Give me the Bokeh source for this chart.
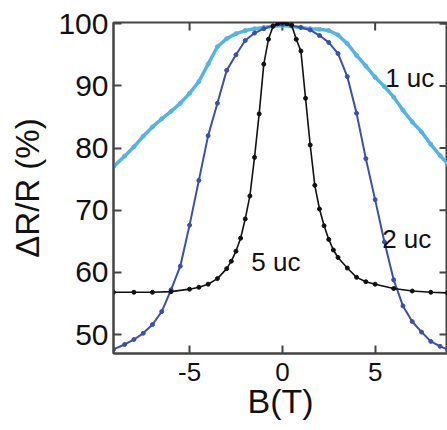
import math
from bokeh.plotting import figure
from bokeh.models import FixedTicker, Range1d, Label
from bokeh.embed import file_html
from bokeh.resources import INLINE

# ---- data ----
b_wide = [-9.1, -8.5, -8.0, -7.5, -7.0, -6.5, -6.0, -5.5, -5.0, -4.5, -4.0, -3.5,
          -3.0, -2.5, -2.0, -1.5, -1.0, -0.5, 0.0, 0.5, 1.0, 1.5, 2.0, 2.5, 3.0,
          3.5, 4.0, 4.5, 5.0, 5.5, 6.0, 6.5, 7.0, 7.5, 8.0, 8.5, 8.9]
r_1uc = [77.0, 78.7, 80.2, 81.9, 83.4, 84.7, 85.9, 87.2, 88.8, 90.7, 93.5, 96.3,
         97.6, 98.4, 98.9, 99.2, 99.4, 99.6, 99.7, 99.6, 99.4, 99.2, 99.1, 98.9, 98.2,
         96.8, 94.9, 93.2, 91.4, 89.9, 88.2, 86.1, 84.2, 82.6, 80.6, 78.8, 77.5]
r_2uc = [47.6, 48.4, 49.2, 50.2, 51.6, 53.7, 57.2, 61.0, 67.6, 74.8, 82.0, 87.2,
         92.5, 95.0, 97.3, 98.5, 99.2, 99.7, 99.9, 99.7, 99.4, 99.0, 98.1, 97.0, 95.2,
         91.5, 85.6, 78.3, 71.7, 64.9, 58.8, 54.6, 52.1, 50.4, 48.9, 48.1, 47.6]
b_5uc = [-9.1, -8.0, -7.0, -6.0, -5.0, -4.5, -4.0, -3.5, -3.0, -2.75, -2.5, -2.25,
         -2.0, -1.75, -1.5, -1.25, -1.0, -0.75, -0.5, -0.25, 0.0, 0.25, 0.5, 0.75,
         1.0, 1.25, 1.5, 1.75, 2.0, 2.25, 2.5, 2.75, 3.0, 3.5, 4.0, 4.5, 5.0, 6.0,
         7.0, 8.0, 8.9]
r_5uc = [56.8, 56.8, 56.8, 56.9, 57.3, 57.6, 58.1, 59.0, 60.6, 61.8, 63.4, 65.5,
         68.6, 72.3, 78.5, 85.5, 93.5, 97.5, 99.6, 100.0, 100.2, 100.0, 99.8, 97.5,
         95.6, 88.0, 80.5, 74.0, 70.2, 67.5, 65.3, 63.6, 62.4, 60.7, 59.2, 58.5, 58.1,
         57.4, 57.0, 56.8, 56.7]
x_ticks = [-5, 0, 5]
y_ticks = [50, 60, 70, 80, 90, 100]
x_tick_labels = ["-5", "0", "5"]
labels = ["1 uc", "2 uc", "5 uc"]
label_x = [5.54, 5.38, -1.67]
label_y = [91.2, 65.3, 61.6]
x_title = "B(T)"
y_title = "ΔR/R (%)"

X_START, X_END = -9.1, 8.9
Y_START, Y_END = 46.95, 100.2

FONT = "Liberation Sans"
AX_COLOR = "#444444"
TXT = "#111111"

p = figure(width=447, height=430, output_backend="svg", toolbar_location=None,
           x_range=Range1d(X_START, X_END), y_range=Range1d(Y_START, Y_END),
           min_border_left=113, min_border_right=0, min_border_top=22,
           min_border_bottom=77, x_axis_label=x_title, y_axis_label=y_title)
p.grid.visible = False
p.outline_line_color = AX_COLOR
p.outline_line_width = 2
p.background_fill_color = "white"
p.border_fill_color = "white"

for ax in (p.xaxis[0], p.yaxis[0]):
    ax.axis_line_color = AX_COLOR
    ax.axis_line_width = 2
    ax.major_tick_line_color = AX_COLOR
    ax.major_tick_line_width = 2
    ax.major_tick_in = 8
    ax.major_tick_out = 0
    ax.minor_tick_line_color = None
    ax.major_label_text_font = FONT
    ax.axis_label_text_font = FONT
    ax.axis_label_text_font_style = "normal"
    ax.axis_label_text_color = TXT
    ax.major_label_text_color = TXT

p.xaxis[0].ticker = FixedTicker(ticks=x_ticks)
p.xaxis[0].major_label_overrides = dict(zip(x_ticks, x_tick_labels))
p.yaxis[0].ticker = FixedTicker(ticks=y_ticks)
p.xaxis[0].major_label_text_font_size = "26px"
p.yaxis[0].major_label_text_font_size = "30px"
p.xaxis[0].axis_label_text_font_size = "34px"
p.yaxis[0].axis_label_text_font_size = "33px"
p.xaxis[0].major_label_standoff = 9
p.xaxis[0].axis_label_standoff = -2
p.yaxis[0].major_label_standoff = 5
p.yaxis[0].axis_label_standoff = 9

# mirrored inward ticks on the top and right edges
p.scatter(x_ticks, [Y_END] * len(x_ticks), marker="dash", size=16, angle=math.pi / 2,
          line_color=AX_COLOR, line_width=2)
p.scatter([X_END] * len(y_ticks), y_ticks, marker="dash", size=16,
          line_color=AX_COLOR, line_width=2)

# curves
c1 = "#56b4e4"
c2 = "#3a50aa"
c5 = "#111111"
p.line(b_wide, r_1uc, line_color=c1, line_width=3.5)
p.scatter(b_wide, r_1uc, size=4, color=c1)
p.line(b_wide, r_2uc, line_color=c2, line_width=2)
p.scatter(b_wide, r_2uc, size=4, color=c2)
p.line(b_5uc, r_5uc, line_color=c5, line_width=1.6)
p.scatter(b_5uc, r_5uc, size=4, color=c5)

for t, lx, ly in zip(labels, label_x, label_y):
    p.add_layout(Label(x=lx, y=ly, text=t, text_font=FONT, text_font_size="26px",
                       text_color=TXT, text_baseline="alphabetic"))

open("out.html", "w").write(file_html(p, INLINE))
